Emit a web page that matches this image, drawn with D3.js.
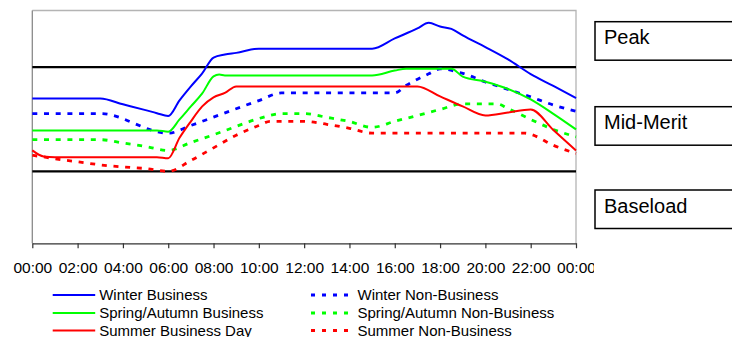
<!DOCTYPE html>
<html>
<head>
<meta charset="utf-8">
<script src="https://cdn.jsdelivr.net/npm/d3@7"></script>
<style>
  html, body { margin: 0; padding: 0; background: #fff; }
  svg { display: block; font-family: "Liberation Sans", Arial, sans-serif; }
</style>
</head>
<body>
<svg id="chart" width="732" height="337"></svg>
<script>
// ---- Data (hour of day, relative load) ----
const tickHours = [0, 2, 4, 6, 8, 10, 12, 14, 16, 18, 20, 22, 24];
const tickLabels = ["00:00","02:00","04:00","06:00","08:00","10:00","12:00","14:00","16:00","18:00","20:00","22:00","00:00"];

const winterBusiness = [[0,62.2],[3,62.2],[4,59.7],[5,57.2],[5.5,55.9],[6,54.7],[6.5,61.4],[7,67.4],[7.5,73.0],[8,79.8],[8.5,81.1],[9,81.8],[10,83.6],[15,83.6],[16,88.0],[17,92.3],[17.5,94.7],[18,93.1],[18.5,92.1],[19,89.3],[20,84.3],[21,79.0],[22,72.7],[23,67.6],[24,62.4]];
const winterNonBusiness = [[0,55.7],[3,55.7],[6,47.3],[7,50.6],[8,54.2],[9,57.8],[10,61.3],[11,64.6],[16,64.6],[16.5,67.8],[17.5,72.8],[18,74.9],[19,73.0],[20,69.3],[21,66.1],[22,62.9],[23,59.4],[24,56.7]];
const springAutumnBusiness = [[0,48.5],[5.5,48.5],[6,47.9],[6.5,53.2],[7,58.8],[7.5,64.4],[8,71.7],[8.25,72.5],[8.5,72.1],[15,72.1],[16,74.2],[16.5,75.0],[18.5,75.0],[19,71.6],[20,69.4],[21,66.3],[22,61.8],[23,55.6],[24,48.9]];
const springAutumnNonBusiness = [[0,44.5],[3,44.5],[4,43.1],[5,41.6],[6,39.9],[7,43.3],[8,46.6],[9,50.2],[10,53.6],[11,55.7],[12,55.7],[13,54.1],[14,52.3],[15,49.8],[16,52.4],[17,54.9],[18,57.5],[19,59.9],[20.5,59.9],[21,57.9],[22,53.2],[23,48.9],[24,45.7]];
const summerBusiness = [[0,39.9],[0.5,37.3],[1,37.0],[5.5,37.0],[6,36.5],[6.5,45.3],[7,52.4],[7.5,58.8],[8,62.7],[8.5,64.6],[9,67.4],[17,67.4],[18,63.1],[19,58.8],[20,54.9],[21,56.2],[22,57.5],[23,48.7],[24,39.9]];
const summerNonBusiness = [[0,37.8],[0.5,37.1],[1,36.3],[2,35.0],[3,33.7],[4,32.8],[5,32.1],[6,30.9],[7,35.6],[8,41.0],[9,46.4],[10,50.6],[10.5,52.4],[12,52.4],[13,51.1],[14,49.4],[15,47.3],[21.75,47.3],[22,46.8],[23,42.1],[24,38.6]];

const seriesNames = ["Winter Business","Winter Non-Business","Spring/Autumn Business","Spring/Autumn Non-Business","Summer Business Day","Summer Non-Business"];
const seriesData = [winterBusiness, winterNonBusiness, springAutumnBusiness, springAutumnNonBusiness, summerBusiness, summerNonBusiness];
const seriesColors = ["#0000ff","#0000ff","#00ff00","#00ff00","#ff0000","#ff0000"];
const seriesDashed = [false, true, false, true, false, true];

const bandLines = [75.7, 30.9];          // Peak / Mid-Merit and Mid-Merit / Baseload boundaries
const bandNames = ["Peak", "Mid-Merit", "Baseload"];

// ---- Layout ----
const svg = d3.select("#chart");
const plot = { left: 32.3, right: 576, top: 10.5, bottom: 243.3 };

const x = d3.scaleLinear().domain([0, 24]).range([plot.left, plot.right]);
const y = d3.scaleLinear().domain([0, 100]).range([plot.bottom, plot.top]);

// frame: top & right light gray
svg.append("path")
  .attr("d", `M${plot.left},${plot.top}H${plot.right}V${plot.bottom}`)
  .attr("fill", "none").attr("stroke", "#b4b4b4").attr("stroke-width", 1.3);
// left axis line
svg.append("line")
  .attr("x1", plot.left).attr("x2", plot.left)
  .attr("y1", plot.top).attr("y2", plot.bottom)
  .attr("stroke", "#8a8a8a").attr("stroke-width", 1.3);

// clip for x labels (in the axis group's own coordinates)
svg.append("clipPath").attr("id", "labclip")
  .append("rect").attr("x", 0).attr("y", -10).attr("width", 594).attr("height", 50);

// x axis
const xAxis = d3.axisBottom(x)
  .tickValues(tickHours)
  .tickFormat((d, i) => tickLabels[i])
  .tickSize(5)
  .tickSizeOuter(0);
const gx = svg.append("g")
  .attr("transform", `translate(0,${plot.bottom})`)
  .attr("clip-path", "url(#labclip)")
  .call(xAxis);
gx.select(".domain").attr("stroke", "#333").attr("stroke-width", 1.2);
gx.selectAll(".tick line").attr("stroke", "#333").attr("stroke-width", 1.2);
gx.selectAll(".tick text")
  .attr("y", 29.4).attr("dy", 0)
  .attr("fill", "#000")
  .style("font-size", "15.5px")
  .style("font-family", "'Liberation Sans', Arial, sans-serif");

// band boundary lines
svg.selectAll(".band")
  .data(bandLines)
  .enter().append("line")
  .attr("class", "band")
  .attr("x1", plot.left).attr("x2", plot.right)
  .attr("y1", d => y(d)).attr("y2", d => y(d))
  .attr("stroke", "#000").attr("stroke-width", 2.3);

// series
const line = d3.line()
  .x(d => x(d[0]))
  .y(d => y(d[1]))
  .curve(d3.curveMonotoneX);

seriesData.forEach((data, i) => {
  svg.append("path")
    .datum(data)
    .attr("d", line)
    .attr("fill", "none")
    .attr("stroke", seriesColors[i])
    .attr("stroke-width", seriesDashed[i] ? 2.8 : 2)
    .attr("stroke-dasharray", seriesDashed[i] ? "5,6.7" : null)
    .attr("stroke-linejoin", "round");
});

// band label boxes on the right
const boxTops = [21.7, 106.7, 190];
bandNames.forEach((name, i) => {
  const g = svg.append("g");
  g.append("rect")
    .attr("x", 595).attr("y", boxTops[i])
    .attr("width", 160).attr("height", 38.5)
    .attr("fill", "#fff").attr("stroke", "#000").attr("stroke-width", 1.5);
  g.append("text")
    .attr("x", 604).attr("y", boxTops[i] + 22.6)
    .style("font-size", "20px")
    .attr("fill", "#000")
    .text(name);
});

// legend (two columns, row-major)
const legendCols = [52.7, 311];
const legendRows = [295, 313, 330.5];
seriesNames.forEach((name, i) => {
  const col = i % 2, row = Math.floor(i / 2);
  const lx = legendCols[col], ly = legendRows[row];
  svg.append("line")
    .attr("x1", lx).attr("x2", lx + 42.5)
    .attr("y1", ly).attr("y2", ly)
    .attr("stroke", seriesColors[i])
    .attr("stroke-width", seriesDashed[i] ? 2.8 : 2)
    .attr("stroke-dasharray", seriesDashed[i] ? "4,7" : null);
  svg.append("text")
    .attr("x", lx + 46.5).attr("y", ly + 5.3)
    .style("font-size", "15px")
    .attr("fill", "#000")
    .text(name);
});
</script>
</body>
</html>
